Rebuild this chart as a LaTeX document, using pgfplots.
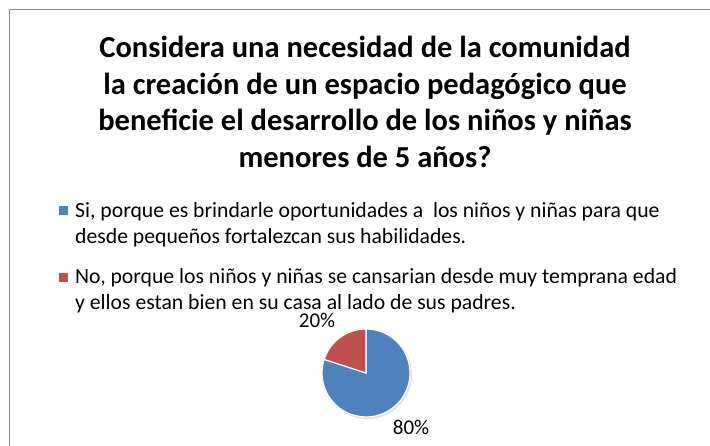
\documentclass[border=0pt]{standalone}
\usepackage{pgfplots}
\pgfplotsset{compat=1.18}
\usepackage{pgfplotstable}
\usepackage{fontspec}
\setmainfont{Carlito}
\definecolor{siblue}{HTML}{4F81BD}
\definecolor{nored}{HTML}{C0504D}
\definecolor{framegray}{HTML}{8C8C8C}

% share of answers (%)
\pgfplotstableread{
answer value
Si     80
No     20
}\piedata

\begin{document}
\begin{tikzpicture}
\useasboundingbox (0pt,0pt) rectangle (710pt,446pt);
\fill[white] (0pt,0pt) rectangle (710pt,446pt);
\draw[framegray, line width=1pt] (9pt,-2pt) -- (9pt,436pt) -- (712pt,436pt);
\pgfplotstablegetelem{0}{value}\of\piedata \let\vsi\pgfplotsretval
\pgfplotstablegetelem{1}{value}\of\piedata \let\vno\pgfplotsretval
\pgfmathsetmacro{\asi}{90-3.6*\vsi}
\pgfmathsetmacro{\ano}{\asi-3.6*\vno}
\begin{axis}[
  at={(0pt,0pt)}, anchor=south west,
  scale only axis, width=710pt, height=446pt,
  xmin=0, xmax=710, ymin=0, ymax=446,
  hide axis, clip=false,
  legend style={
    at={(axis cs:56,248)}, anchor=north west,
    draw=none, fill=none,
    font=\fontsize{21.7}{26}\selectfont,
    legend cell align=left,
    row sep=46pt,
  },
  legend image code/.code={
    \fill[#1] (0pt,-4.5pt) rectangle (9pt,4.5pt);
  },
]
\addlegendimage{fill=siblue, draw=none}
\addlegendentry{\hspace*{5pt}\parbox[t]{630pt}{Si, porque es brindarle oportunidades a\ \ los niños y niñas para que\\desde pequeños fortalezcan sus habilidades.}}
\addlegendimage{fill=nored, draw=none}
\addlegendentry{\hspace*{5pt}\parbox[t]{630pt}{No, porque los niños y niñas se cansarian desde muy temprana edad\\y ellos estan bien en su casa al lado de sus padres.}}

\node[align=center, anchor=north, inner sep=0pt,
      font=\bfseries\fontsize{30.5}{36.7}\selectfont]
  at (axis cs:365,410)
  {Considera una necesidad de la comunidad\\
   la creación de un espacio pedagógico que\\
   beneficie el desarrollo de los niños y niñas\\
   menores de 5 años?};

% pie
\fill[black!12] (axis cs:367.5,71.5) circle[radius=44.5pt];
\fill[siblue, draw=white, line width=1.2pt] (axis cs:366,73) -- ++(90:44pt)
  arc[start angle=90, end angle=\asi, radius=44pt] -- cycle;
\fill[nored, draw=white, line width=1.2pt] (axis cs:366,73) -- ++(\asi:44pt)
  arc[start angle=\asi, end angle=\ano, radius=44pt] -- cycle;

\node[font=\fontsize{21}{25}\selectfont, inner sep=0pt] at (axis cs:317,126) {\vno\%};
\node[font=\fontsize{21}{25}\selectfont, inner sep=0pt] at (axis cs:411,19) {\vsi\%};
\end{axis}
\end{tikzpicture}
\end{document}
